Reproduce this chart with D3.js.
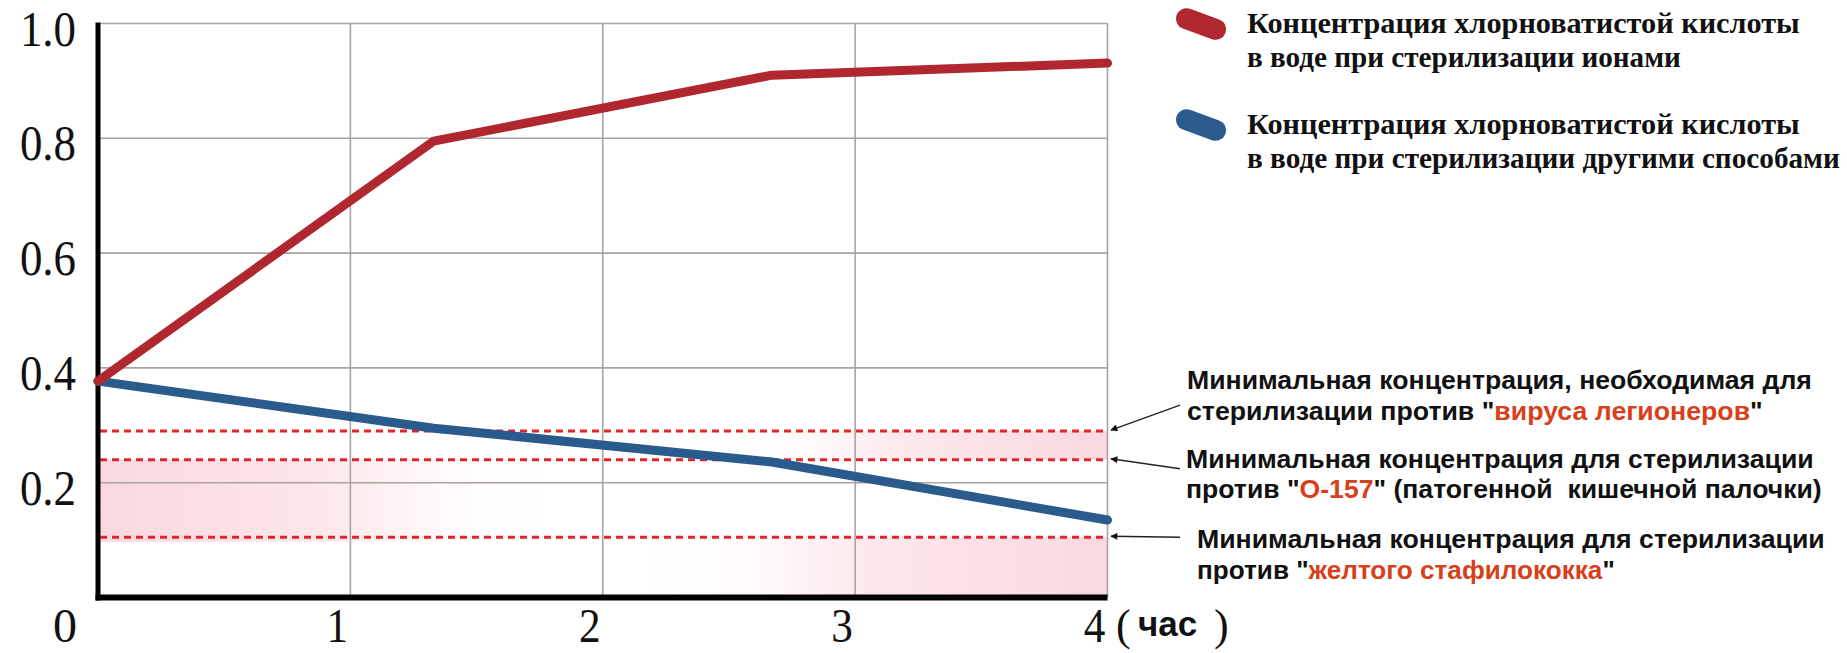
<!DOCTYPE html>
<html>
<head>
<meta charset="utf-8">
<script src="https://cdn.jsdelivr.net/npm/d3@7"></script>
<style>
  html, body { margin: 0; padding: 0; background: #fff; }
  svg { display: block; }
  text { white-space: pre; }
</style>
</head>
<body>
<svg id="chart" width="1847" height="653"></svg>
<script>
// Time points (hours) where the concentration curves change slope
const hours = [0, 1.33, 2.67, 4];
// Hypochlorous acid concentration, ion sterilization
const ionConc = [0.377, 0.795, 0.91, 0.931];
// Hypochlorous acid concentration, other sterilization methods
const otherConc = [0.377, 0.295, 0.236, 0.135];
// Minimum concentrations required against each pathogen
const thresholds = [0.29, 0.24, 0.105];

const xTicks = [1, 2, 3, 4];
const xTickLabels = ["1", "2", "3", "4"];
const yTicks = [0.2, 0.4, 0.6, 0.8, 1.0];
const yTickLabels = ["0.2", "0.4", "0.6", "0.8", "1.0"];

const seriesNames = [
  ["Концентрация хлорноватистой кислоты", "в воде при стерилизации ионами"],
  ["Концентрация хлорноватистой кислоты", "в воде при стерилизации другими способами"]
];

// Threshold notes: each line is a list of [text, highlighted]
const notes = [
  [[["Минимальная концентрация, необходимая для", false]],
   [["стерилизации против \"", false], ["вируса легионеров", true], ["\"", false]]],
  [[["Минимальная концентрация для стерилизации", false]],
   [["против \"", false], ["О-157", true], ["\" (патогенной  кишечной палочки)", false]]],
  [[["Минимальная концентрация для стерилизации", false]],
   [["против \"", false], ["желтого стафилококка", true], ["\"", false]]]
];

// Shaded pink bands (value ranges) fading toward the plot interior
const bandTop = [0.24, 0.29, 0.105];
const bandBottom = [0.097, 0.24, 0];
const bandFrom = [0, 4, 4];
const bandTo = [1.85, 2.4, 2.1];

const svg = d3.select("#chart");
const x = d3.scaleLinear().domain([0, 4]).range([98, 1107.5]);
const y = d3.scaleLinear().domain([0, 1]).range([597.5, 23.5]);

const defs = svg.append("defs");

// Bands
bandTop.forEach((t, i) => {
  const id = "band" + i;
  const g = defs.append("linearGradient").attr("id", id)
    .attr("gradientUnits", "userSpaceOnUse")
    .attr("x1", x(bandFrom[i])).attr("x2", x(bandTo[i]))
    .attr("y1", 0).attr("y2", 0);
  g.append("stop").attr("offset", 0).attr("stop-color", "#f9d8de");
  g.append("stop").attr("offset", 0.5).attr("stop-color", "#fce8eb");
  g.append("stop").attr("offset", 1).attr("stop-color", "#ffffff").attr("stop-opacity", 0);
  const x0 = Math.min(x(bandFrom[i]), x(bandTo[i]));
  const x1 = Math.max(x(bandFrom[i]), x(bandTo[i]));
  svg.append("rect")
    .attr("x", x0).attr("width", x1 - x0)
    .attr("y", y(t)).attr("height", y(bandBottom[i]) - y(t))
    .attr("fill", `url(#${id})`);
});

// Grid
const grid = svg.append("g").attr("stroke", "#a9a4a2").attr("stroke-width", 1.6);
grid.selectAll("line.h").data(yTicks).join("line")
  .attr("x1", x(0)).attr("x2", x(4))
  .attr("y1", d => y(d)).attr("y2", d => y(d));
grid.selectAll("line.v").data(xTicks).join("line")
  .attr("x1", d => x(d)).attr("x2", d => x(d))
  .attr("y1", y(1)).attr("y2", y(0));

// Threshold dashed lines
svg.append("g").selectAll("line").data(thresholds).join("line")
  .attr("x1", x(0) + 2).attr("x2", x(4))
  .attr("y1", d => y(d)).attr("y2", d => y(d))
  .attr("stroke", "#e3242b").attr("stroke-width", 3)
  .attr("stroke-dasharray", "7,5");

// Axes (heavy black)
svg.append("line").attr("x1", x(0)).attr("x2", x(0))
  .attr("y1", y(1) - 1).attr("y2", y(0) + 3)
  .attr("stroke", "#000").attr("stroke-width", 5);
svg.append("line").attr("x1", x(0) - 2.5).attr("x2", x(4))
  .attr("y1", y(0)).attr("y2", y(0))
  .attr("stroke", "#000").attr("stroke-width", 6);

// Series lines
const line = d3.line().x(d => x(d[0])).y(d => y(d[1]));
const series = [
  { values: ionConc, color: "#b0272f" },
  { values: otherConc, color: "#2a5b8c" }
];
series.slice().reverse().forEach(s => {
  svg.append("path")
    .attr("d", line(hours.map((h, i) => [h, s.values[i]])))
    .attr("fill", "none").attr("stroke", s.color)
    .attr("stroke-width", 9)
    .attr("stroke-linejoin", "round").attr("stroke-linecap", "round");
});

// Condense a text element horizontally about its anchor point
function squeeze(sel, ax, k) {
  sel.attr("transform", `translate(${ax},0) scale(${k},1) translate(${-ax},0)`);
}

// Tick labels
const tickFont = "'Liberation Serif', 'DejaVu Serif', serif";
svg.append("g").selectAll("text").data(yTicks).join("text")
  .attr("x", 76).attr("y", d => y(d) + 22)
  .attr("text-anchor", "end")
  .attr("font-family", tickFont).attr("font-size", 51).attr("fill", "#111")
  .text((d, i) => yTickLabels[i])
  .each(function() { squeeze(d3.select(this), 76, 0.88); });
svg.append("g").selectAll("text").data(xTicks).join("text")
  .attr("x", d => x(d) - 13).attr("y", 642)
  .attr("text-anchor", "middle")
  .attr("font-family", tickFont).attr("font-size", 48).attr("fill", "#111")
  .text((d, i) => xTickLabels[i])
  .each(function(d) { squeeze(d3.select(this), x(d) - 13, 0.9); });
svg.append("text").attr("x", x(0) - 33).attr("y", 642)
  .attr("text-anchor", "middle")
  .attr("font-family", tickFont).attr("font-size", 48).attr("fill", "#111")
  .text("0");

// Unit label
svg.append("text").attr("x", 1116).attr("y", 640)
  .attr("font-family", tickFont).attr("font-size", 44).attr("fill", "#111").text("(");
svg.append("text").attr("x", 1138).attr("y", 636)
  .attr("font-family", "'Liberation Sans', Arial, sans-serif").attr("font-weight", "bold")
  .attr("font-size", 35).attr("fill", "#111").text("час");
svg.append("text").attr("x", 1214).attr("y", 640)
  .attr("font-family", tickFont).attr("font-size", 44).attr("fill", "#111").text(")");

// Fit a text element horizontally to a target width
function fitWidth(sel, x0, width) {
  const w = sel.node().getComputedTextLength();
  squeeze(sel, x0, width / w);
}

// Legend
const legendY = [24, 125];
const legendBase = [[33, 67], [134, 168]];
const legendWidths = [[553, 434], [553, 593]];
series.forEach((s, i) => {
  svg.append("rect")
    .attr("x", -26).attr("y", -10.5).attr("width", 52).attr("height", 21).attr("rx", 10.5)
    .attr("fill", s.color)
    .attr("transform", `translate(1201,${legendY[i]}) rotate(20)`);
  seriesNames[i].forEach((txt, j) => {
    const t = svg.append("text")
      .attr("x", 1247).attr("y", legendBase[i][j])
      .attr("font-family", "'Liberation Serif', 'Times New Roman', serif")
      .attr("font-weight", "bold").attr("font-size", 30).attr("fill", "#111")
      .text(txt);
    fitWidth(t, 1247, legendWidths[i][j]);
  });
});

// Threshold notes with arrows
defs.append("marker").attr("id", "arrow")
  .attr("viewBox", "0 0 10 10").attr("refX", 9).attr("refY", 5)
  .attr("markerWidth", 9).attr("markerHeight", 7).attr("markerUnits", "userSpaceOnUse")
  .attr("orient", "auto")
  .append("path").attr("d", "M0,0 L10,5 L0,10 Z").attr("fill", "#111");

const noteX = [1187, 1186, 1197];
const noteBase = [[389, 420], [468, 498], [548, 579]];
const noteWidths = [[625, 576], [628, 636], [628, 418]];
const arrowStartDy = [-26, 9, 0];
notes.forEach((lines, i) => {
  lines.forEach((parts, j) => {
    const t = svg.append("text")
      .attr("x", noteX[i]).attr("y", noteBase[i][j])
      .attr("font-family", "'Liberation Sans', Arial, sans-serif")
      .attr("font-weight", "bold").attr("font-size", 25).attr("fill", "#111");
    parts.forEach(p => {
      t.append("tspan").attr("fill", p[1] ? "#d8401c" : "#111").text(p[0]);
    });
    fitWidth(t, noteX[i], noteWidths[i][j]);
  });
  svg.append("line")
    .attr("x1", 1180).attr("y1", y(thresholds[i]) + arrowStartDy[i])
    .attr("x2", 1111).attr("y2", y(thresholds[i]) - 1)
    .attr("stroke", "#222").attr("stroke-width", 1.3)
    .attr("marker-end", "url(#arrow)");
});
</script>
</body>
</html>
